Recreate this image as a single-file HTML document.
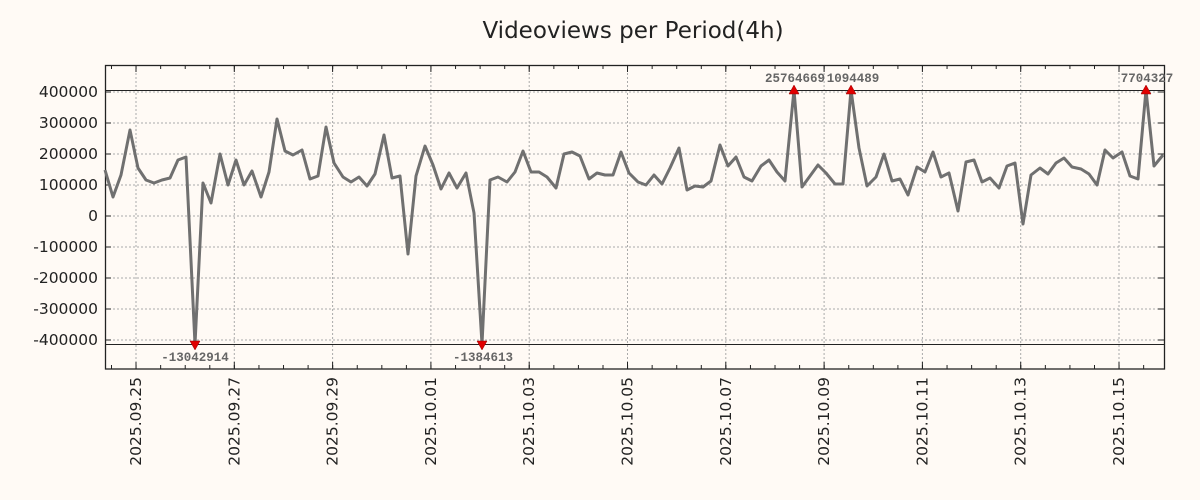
<!DOCTYPE html>
<html><head><meta charset="utf-8"><style>
html,body{margin:0;padding:0;background:#fffaf5;}
svg{display:block}
</style></head><body>
<svg width="1200" height="500" xmlns="http://www.w3.org/2000/svg" font-family="'DejaVu Sans','Liberation Sans',sans-serif">
<rect width="1200" height="500" fill="#fffaf5"/>
<text x="633" y="38" font-size="23" text-anchor="middle" fill="#222">Videoviews per Period(4h)</text>
<g stroke="#aaa" stroke-width="1" stroke-dasharray="2,2">
<line x1="105" x2="1164" y1="92" y2="92"/><line x1="105" x2="1164" y1="123" y2="123"/><line x1="105" x2="1164" y1="154" y2="154"/><line x1="105" x2="1164" y1="185" y2="185"/><line x1="105" x2="1164" y1="216" y2="216"/><line x1="105" x2="1164" y1="247" y2="247"/><line x1="105" x2="1164" y1="278" y2="278"/><line x1="105" x2="1164" y1="309" y2="309"/><line x1="105" x2="1164" y1="340" y2="340"/>
<line x1="136" x2="136" y1="65" y2="369"/><line x1="234.3" x2="234.3" y1="65" y2="369"/><line x1="332.6" x2="332.6" y1="65" y2="369"/><line x1="430.9" x2="430.9" y1="65" y2="369"/><line x1="529.2" x2="529.2" y1="65" y2="369"/><line x1="627.5" x2="627.5" y1="65" y2="369"/><line x1="725.8" x2="725.8" y1="65" y2="369"/><line x1="824.1" x2="824.1" y1="65" y2="369"/><line x1="922.4" x2="922.4" y1="65" y2="369"/><line x1="1020.7" x2="1020.7" y1="65" y2="369"/><line x1="1119" x2="1119" y1="65" y2="369"/>
</g>
<line x1="105" x2="1164" y1="90.5" y2="90.5" stroke="#222" stroke-width="1"/>
<line x1="105" x2="1164" y1="344.5" y2="344.5" stroke="#222" stroke-width="1"/>
<rect x="105.5" y="65.5" width="1059" height="303.5" fill="none" stroke="#222" stroke-width="1.3"/>
<g stroke="#222">
<line x1="111" x2="1164" y1="367" y2="367" stroke-width="4" stroke-dasharray="1,23.575"/>
<line x1="111" x2="1164" y1="67" y2="67" stroke-width="4" stroke-dasharray="1,23.575"/>
<line x1="135.5" x2="1164" y1="365.5" y2="365.5" stroke-width="7" stroke-dasharray="1,97.3"/>
<line x1="135.5" x2="1164" y1="68.5" y2="68.5" stroke-width="7" stroke-dasharray="1,97.3"/>
<line x1="105" x2="111" y1="92" y2="92"/><line x1="105" x2="111" y1="123" y2="123"/><line x1="105" x2="111" y1="154" y2="154"/><line x1="105" x2="111" y1="185" y2="185"/><line x1="105" x2="111" y1="216" y2="216"/><line x1="105" x2="111" y1="247" y2="247"/><line x1="105" x2="111" y1="278" y2="278"/><line x1="105" x2="111" y1="309" y2="309"/><line x1="105" x2="111" y1="340" y2="340"/>
<line x1="1158" x2="1164" y1="92" y2="92"/><line x1="1158" x2="1164" y1="123" y2="123"/><line x1="1158" x2="1164" y1="154" y2="154"/><line x1="1158" x2="1164" y1="185" y2="185"/><line x1="1158" x2="1164" y1="216" y2="216"/><line x1="1158" x2="1164" y1="247" y2="247"/><line x1="1158" x2="1164" y1="278" y2="278"/><line x1="1158" x2="1164" y1="309" y2="309"/><line x1="1158" x2="1164" y1="340" y2="340"/>
</g>
<g font-size="15.5" fill="#222" text-anchor="end">
<text x="98" y="97">400000</text><text x="98" y="128">300000</text><text x="98" y="159">200000</text><text x="98" y="190">100000</text><text x="98" y="221">0</text><text x="98" y="252">-100000</text><text x="98" y="283">-200000</text><text x="98" y="314">-300000</text><text x="98" y="345">-400000</text>
</g>
<g font-size="15.5" fill="#222" text-anchor="end">
<text transform="translate(141,377) rotate(-90)">2025.09.25</text>
<text transform="translate(239.3,377) rotate(-90)">2025.09.27</text>
<text transform="translate(337.6,377) rotate(-90)">2025.09.29</text>
<text transform="translate(435.9,377) rotate(-90)">2025.10.01</text>
<text transform="translate(534.2,377) rotate(-90)">2025.10.03</text>
<text transform="translate(632.5,377) rotate(-90)">2025.10.05</text>
<text transform="translate(730.8,377) rotate(-90)">2025.10.07</text>
<text transform="translate(829.1,377) rotate(-90)">2025.10.09</text>
<text transform="translate(927.4,377) rotate(-90)">2025.10.11</text>
<text transform="translate(1025.7,377) rotate(-90)">2025.10.13</text>
<text transform="translate(1124,377) rotate(-90)">2025.10.15</text>
</g>
<polyline fill="none" stroke="#707070" stroke-width="3" stroke-linejoin="round" points="105,170 113,197 121,175 130,130 138,168 146,180 154,183 162,180 170,178 178,160 186,157 195,344 203,183 211,203 220,154 228,185 236,160 244,185 252,171 261,197 269,172 277,119 285,151 293,155 302,150 310,179 318,176 326,127 334,163 343,177 351,182 359,177 367,186 375,174 384,135 392,178 400,176 408,254 416,176 425,146 433,165 441,189 449,173 457,188 466,173 474,213 482,344 490,180 498,177 507,182 515,172 523,151 531,172 539,172 547,177 556,188 564,154 572,152 580,156 589,179 597,173 605,175 613,175 621,152 629,173 638,182 646,185 654,175 662,184 670,168 679,148 687,190 695,186 703,187 711,181 720,145 728,166 736,157 744,177 752,181 761,166 769,160 777,172 785,181 794,90 802,187 810,176 818,165 826,173 835,184 843,184 851,90 859,148 867,186 876,177 884,154 892,181 900,179 908,195 917,167 925,172 933,152 941,177 949,173 958,211 966,162 974,160 982,182 990,178 999,188 1007,166 1015,163 1023,224 1031,175 1040,168 1048,174 1056,163 1064,158 1072,167 1081,169 1089,174 1097,185 1105,150 1113,158 1122,152 1130,176 1138,179 1146,90 1154,166 1163,155"/>
<g fill="#e00000" stroke="#900" stroke-width="0.5">
<polygon points="789,94 799,94 794,85"/><polygon points="846,94 856,94 851,85"/><polygon points="1141,94 1151,94 1146,85"/>
<polygon points="190,341 200,341 195,350"/><polygon points="477,341 487,341 482,350"/>
</g>
<g font-family="'Liberation Mono','DejaVu Sans Mono',monospace" font-weight="bold" font-size="12.5" fill="#666" text-anchor="middle">
<text x="795" y="82">25764669</text><text x="853" y="82">1094489</text><text x="1147" y="82">7704327</text>
<text x="195" y="361">-13042914</text><text x="483" y="361">-1384613</text>
</g>
</svg>
</body></html>
